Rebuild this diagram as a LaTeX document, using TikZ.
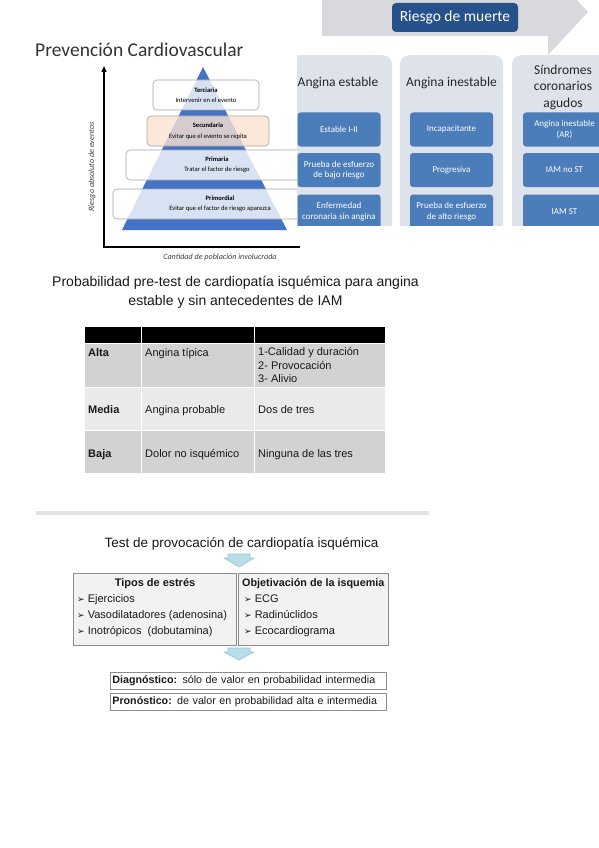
\documentclass[tikz,border=0pt]{standalone}
\usepackage{fontspec}
\setmainfont{Liberation Sans}
\newfontfamily\calib{Carlito}
\newfontfamily\dejavu{DejaVu Sans}
\usetikzlibrary{arrows.meta, calc}
\usepackage{xcolor}
\definecolor{PyrBlue}{HTML}{4472C4}
\definecolor{PeachFill}{HTML}{FBE3D3}
\definecolor{BoxLine}{HTML}{A6A6A6}
\definecolor{ArrowGray}{HTML}{D7D9DC}
\definecolor{RiskBlue}{HTML}{27518A}
\definecolor{ColumnBg}{HTML}{DEE3EB}
\definecolor{CellBlue}{HTML}{4B7DBA}
\definecolor{HeadText}{HTML}{262626}
\definecolor{RowDark}{HTML}{D2D2D2}
\definecolor{RowLight}{HTML}{EAEAEA}
\definecolor{StressFill}{HTML}{F2F2F2}
\definecolor{StressLine}{HTML}{8C8C8C}
\definecolor{DownArrow}{HTML}{B7DEE8}
\definecolor{DownArrowLine}{HTML}{8FC7D6}
\definecolor{SepGray}{HTML}{E3E3E3}
\tikzset{
    % pyramid boxes
    levelbox/.style={
        rectangle,
        rounded corners=4pt,
        draw=BoxLine,
        line width=0.6pt,
        fill=white,
        fill opacity=0.8,
        text opacity=1,
        inner sep=0pt,
        align=center,
        font=\calib\fontsize{6.6}{10.5}\selectfont
    },
    axis/.style={
        line width=2pt,
        draw=black
    },
    axislabel/.style={
        font=\calib\itshape\fontsize{8.1}{9}\selectfont,
        text=black!75
    },
    % risk panel
    riskbox/.style={
        rectangle,
        rounded corners=4pt,
        fill=RiskBlue,
        text=white,
        minimum width=126pt,
        minimum height=29pt,
        font=\calib\fontsize{15.5}{18}\selectfont
    },
    colbg/.style={
        rectangle,
        rounded corners=9pt,
        fill=ColumnBg,
        minimum width=103pt,
        minimum height=200pt,
        anchor=north
    },
    colhead/.style={
        align=center,
        text=HeadText,
        font=\calib\fontsize{13.5}{16.5}\selectfont
    },
    cellbox/.style={
        rectangle,
        rounded corners=3pt,
        fill=CellBlue,
        text=white,
        minimum width=83pt,
        minimum height=34pt,
        inner sep=1pt,
        align=center,
        font=\calib\fontsize{9}{10.5}\selectfont
    },
    % table
    celltext/.style={
        anchor=base west,
        inner sep=0pt,
        align=left,
        text=black!90,
        font=\fontsize{11}{13.5}\selectfont
    },
    % test section
    stressbox/.style={
        rectangle,
        draw=StressLine,
        fill=StressFill,
        line width=0.8pt,
        anchor=north west,
        minimum height=72pt
    },
    itemtext/.style={
        anchor=base west,
        inner sep=0pt,
        text=black!90,
        font=\fontsize{11}{13}\selectfont
    },
    resultbox/.style={
        rectangle,
        draw=StressLine,
        fill=white,
        line width=0.8pt,
        minimum height=16.5pt,
        text width=272pt,
        inner xsep=2pt,
        inner ysep=0pt,
        anchor=west,
        align=left,
        text=black!90,
        font=\fontsize{10.7}{12}\selectfont
    },
    blockarrow/.style={
        fill=DownArrow,
        draw=DownArrowLine,
        line width=0.6pt,
        line join=round
    }
}
\newcommand{\bul}{{\dejavu\fontsize{9}{9}\selectfont ➢}}

\begin{document}
\begin{tikzpicture}[x=1pt, y=-1pt]
    \useasboundingbox (0,0) rectangle (599,848);
    \fill[white] (0,0) rectangle (599,848);

    % Prevention pyramid
    \node[anchor=west, inner sep=0pt, text=black!80, font=\calib\fontsize{19.5}{22}\selectfont] (prevtitle) at (35,50) {Prevención Cardiovascular};
    \coordinate (apex) at (203,67);
    \coordinate (baseL) at (122,230);
    \coordinate (baseR) at (287,230);
    \fill[PyrBlue] (apex) -- (baseR) -- (baseL) -- cycle;

    \node[levelbox, minimum width=106pt, minimum height=30pt] (terc) at (206,95) {\textbf{Terciaria}\\Intervenir en el evento};
    \node[levelbox, fill=PeachFill, minimum width=122pt, minimum height=30pt] (secu) at (208,131) {\textbf{Secundaria}\\Evitar que el evento se repita};
    \node[levelbox, minimum width=182pt, minimum height=30pt] (prim) at (217,165) {\textbf{Primaria}\\Tratar el factor de riesgo};
    \node[levelbox, minimum width=214pt, minimum height=30pt] (primo) at (220,204) {\textbf{Primordial}\\Evitar que el factor de riesgo aparezca};

    \draw[axis, -{Triangle[length=6pt, width=5pt]}] (104,248) -- (104,66);
    \draw[axis] (103,247) -- (300,247);
    \node[axislabel, rotate=90] (ylab) at (92,167) {Riesgo absoluto de eventos};
    \node[axislabel] (xlab) at (220,257) {Cantidad de población involucrada};

    % Risk of death panel
    \fill[white] (297,0) rectangle (599,225);
    \begin{scope}
        \clip (297,-40) rectangle (599,225);
        \fill[ArrowGray] (322,-12) -- (548,-12) -- (548,-31) -- (588,12) -- (548,55) -- (548,36) -- (322,36) -- cycle;
        \node[colbg] (colA) at (340.5,55) {};
        \node[colbg] (colB) at (451.5,55) {};
        \node[colbg] (colC) at (563.5,55) {};
        \node[cellbox] (cellA1) at (339,129.5) {Estable I-II};
        \node[cellbox] (cellA2) at (339,170) {Prueba de esfuerzo\\de bajo riesgo};
        \node[cellbox] (cellA3) at (339,211.5) {Enfermedad\\coronaria sin angina};
        \node[cellbox] (cellB1) at (451.5,129.5) {Incapacitante};
        \node[cellbox] (cellB2) at (451.5,170) {Progresiva};
        \node[cellbox] (cellB3) at (451.5,211.5) {Prueba de esfuerzo\\de alto riesgo};
        \node[cellbox] (cellC1) at (564.5,129.5) {Angina inestable\\(AR)};
        \node[cellbox] (cellC2) at (564.5,170) {IAM no ST};
        \node[cellbox] (cellC3) at (564.5,211.5) {IAM ST};
    \end{scope}
    \node[riskbox] (riesgo) at (455,17.5) {Riesgo de muerte};
    \node[colhead] (headA) at (338,83) {Angina estable};
    \node[colhead] (headB) at (451.5,83) {Angina inestable};
    \node[colhead] (headC) at (563,87) {Síndromes\\coronarios\\agudos};

    % Pre-test probability table
    \node[align=center, text=black!90, font=\fontsize{14}{19}\selectfont] (tabtitle) at (235.5,292.5) {Probabilidad pre-test de cardiopatía isquémica para angina\\estable y sin antecedentes de IAM};
    \fill[black] (85,327) rectangle (385,343);
    \fill[RowDark] (85,343) rectangle (385,387);
    \fill[RowLight] (85,387) rectangle (385,430);
    \fill[RowDark] (85,430) rectangle (385,473);
    \draw[white, line width=1pt] (141,327) -- (141,473) (254,327) -- (254,473);
    \draw[white, line width=0.6pt] (85,343) -- (385,343) (85,387) -- (385,387) (85,430) -- (385,430);

    \node[celltext] (alta) at (88,356) {\textbf{Alta}};
    \node[celltext] (altaB) at (145,356) {Angina típica};
    \node[celltext, anchor=north west] (altaC) at (258,347.5) {1-Calidad y duración\\2- Provocación\\3- Alivio};
    \node[celltext] (media) at (88,413) {\textbf{Media}};
    \node[celltext] (mediaB) at (145,413) {Angina probable};
    \node[celltext] (mediaC) at (258,413) {Dos de tres};
    \node[celltext] (baja) at (88,457) {\textbf{Baja}};
    \node[celltext] (bajaB) at (145,457) {Dolor no isquémico};
    \node[celltext] (bajaC) at (258,457) {Ninguna de las tres};

    \draw[SepGray, line width=4pt] (36,512.5) -- (429,512.5);

    % Provocation test
    \node[text=black!90, font=\fontsize{13.5}{16}\selectfont] (testtitle) at (241.5,544) {Test de provocación de cardiopatía isquémica};
    \coordinate (arrA) at (239,554);
    \draw[blockarrow] ($(arrA)+(-11,0)$) -- ++(22,0) -- ++(0,4) -- ++(4,0) -- ++(-15,9) -- ++(-15,-9) -- ++(4,0) -- cycle;

    \node[stressbox, minimum width=163pt] (stress) at (73,573) {};
    \node[stressbox, minimum width=150pt] (ischemia) at (238,573) {};
    \node[itemtext, anchor=base] (stresshead) at (155,586) {\textbf{Tipos de estrés}};
    \node[itemtext] (ex1) at (77,602) {\bul\ Ejercicios};
    \node[itemtext] (ex2) at (77,618) {\bul\ Vasodilatadores (adenosina)};
    \node[itemtext] (ex3) at (77,634) {\bul\ Inotrópicos \ (dobutamina)};
    \node[itemtext, font=\fontsize{10.8}{13}\selectfont] (ischhead) at (242,586) {\textbf{Objetivación de la isquemia}};
    \node[itemtext] (ob1) at (244,602) {\bul\ ECG};
    \node[itemtext] (ob2) at (244,618) {\bul\ Radinúclidos};
    \node[itemtext] (ob3) at (244,634) {\bul\ Ecocardiograma};

    \coordinate (arrB) at (239,648);
    \draw[blockarrow] ($(arrB)+(-11,0)$) -- ++(22,0) -- ++(0,4) -- ++(4,0) -- ++(-15,8) -- ++(-15,-8) -- ++(4,0) -- cycle;

    \node[resultbox] (diag) at (110,681) {\textbf{Diagnóstico:} sólo de valor en probabilidad intermedia};
    \node[resultbox] (pron) at (110,702) {\textbf{Pronóstico:} de valor en probabilidad alta e intermedia};
\end{tikzpicture}
\end{document}
